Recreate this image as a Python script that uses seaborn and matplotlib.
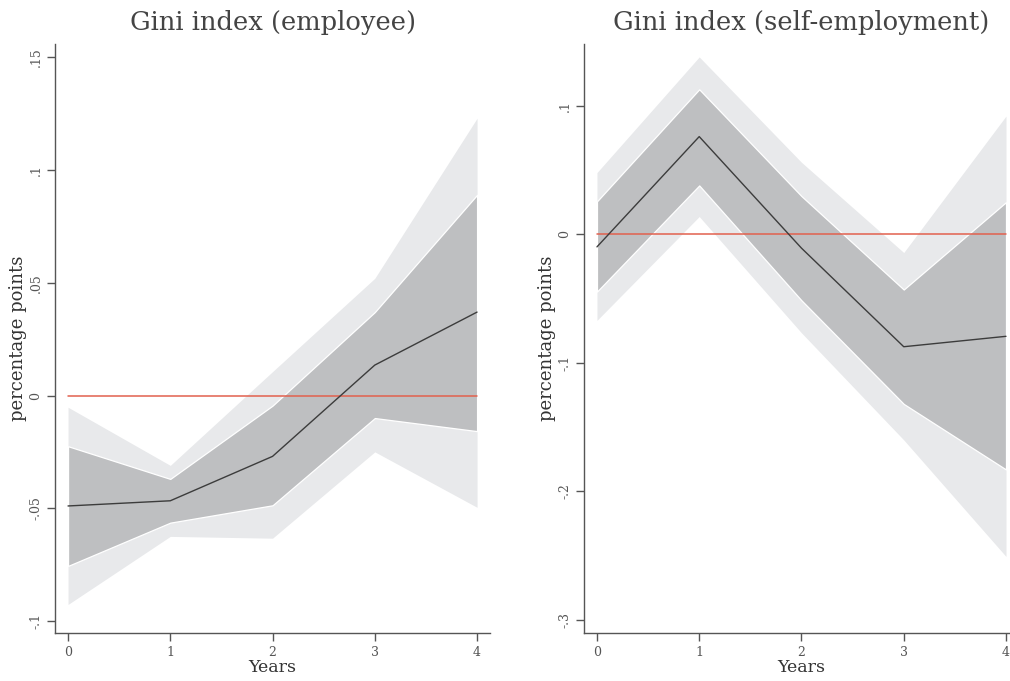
import numpy as np
import pandas as pd
import seaborn as sns
import matplotlib.pyplot as plt
from matplotlib.ticker import FuncFormatter

# years after event
years = [0, 1, 2, 3, 4]

# employee panel
emp_point = [-0.049, -0.0467, -0.027, 0.0135, 0.037]
emp_in_lo = [-0.0756, -0.0564, -0.0487, -0.010, -0.0158]
emp_in_hi = [-0.0225, -0.037, -0.0045, 0.037, 0.089]
emp_out_lo = [-0.0927, -0.0625, -0.0633, -0.025, -0.0496]
emp_out_hi = [-0.0052, -0.031, 0.0106, 0.052, 0.123]

# self-employment panel
self_point = [-0.0098, 0.076, -0.0108, -0.0875, -0.0794]
self_in_lo = [-0.0446, 0.038, -0.0514, -0.132, -0.183]
self_in_hi = [0.0256, 0.1128, 0.0297, -0.043, 0.025]
self_out_lo = [-0.067, 0.0138, -0.0767, -0.160, -0.2507]
self_out_hi = [0.048, 0.138, 0.056, -0.0142, 0.092]

emp_yticks = [-0.1, -0.05, 0, 0.05, 0.1, 0.15]
self_yticks = [-0.3, -0.2, -0.1, 0, 0.1]

sns.set_style("ticks")
plt.rcParams['font.family'] = ['DejaVu Serif']

GREY = '#555555'
OUTER = '#e8e9eb'
INNER = '#bebfc1'
LINE = '#3c3c3c'
RED = '#e2604e'


def stata_fmt(v, pos):
    if abs(v) < 1e-12:
        return '0'
    s = ('%g' % v)
    s = s.replace('0.', '.')
    return s


def panel(ax, title, point, in_lo, in_hi, out_lo, out_hi, yticks, ylim):
    df = pd.DataFrame({"year": years, "coef": point, "zero": [0.0] * len(years)})
    ax.fill_between(years, out_lo, out_hi, color=OUTER, lw=0, zorder=1)
    ax.fill_between(years, in_lo, in_hi, facecolor=INNER, edgecolor='white', lw=0.9, zorder=2)
    sns.lineplot(data=df, x="year", y="zero", ax=ax, color=RED, lw=1.1, zorder=3)
    sns.lineplot(data=df, x="year", y="coef", ax=ax, color=LINE, lw=1.0, zorder=4)
    ax.set_xlim(-0.127, 4.127)
    ax.set_ylim(*ylim)
    ax.set_xticks(years)
    ax.set_yticks(yticks)
    ax.yaxis.set_major_formatter(FuncFormatter(stata_fmt))
    ax.tick_params(axis='both', labelsize=9, colors=GREY, length=6, width=1.0,
                   direction='out', pad=3)
    ax.tick_params(axis='y', labelrotation=90)
    for lab in ax.get_yticklabels():
        lab.set_va('center')
    sns.despine(ax=ax)
    for sp in ['left', 'bottom']:
        ax.spines[sp].set_color(GREY)
        ax.spines[sp].set_linewidth(1.0)
    ax.set_xlabel("Years", fontsize=12.5, color='#333333', labelpad=0)
    ax.set_ylabel("percentage points", fontsize=13, color='#333333', labelpad=2)
    ax.set_title(title, fontsize=18.5, color='#444444', pad=10)


fig = plt.figure(figsize=(10.1, 6.81), dpi=100)
ax1 = fig.add_axes([0.0545, 0.070, 0.4307, 0.8653])
ax2 = fig.add_axes([0.5782, 0.070, 0.4307, 0.8653])

panel(ax1, "Gini index (employee)", emp_point, emp_in_lo, emp_in_hi,
      emp_out_lo, emp_out_hi, emp_yticks, (-0.1055, 0.1559))
panel(ax2, "Gini index (self-employment)", self_point, self_in_lo, self_in_hi,
      self_out_lo, self_out_hi, self_yticks, (-0.3105, 0.148))

fig.savefig("out.png", dpi=100)
